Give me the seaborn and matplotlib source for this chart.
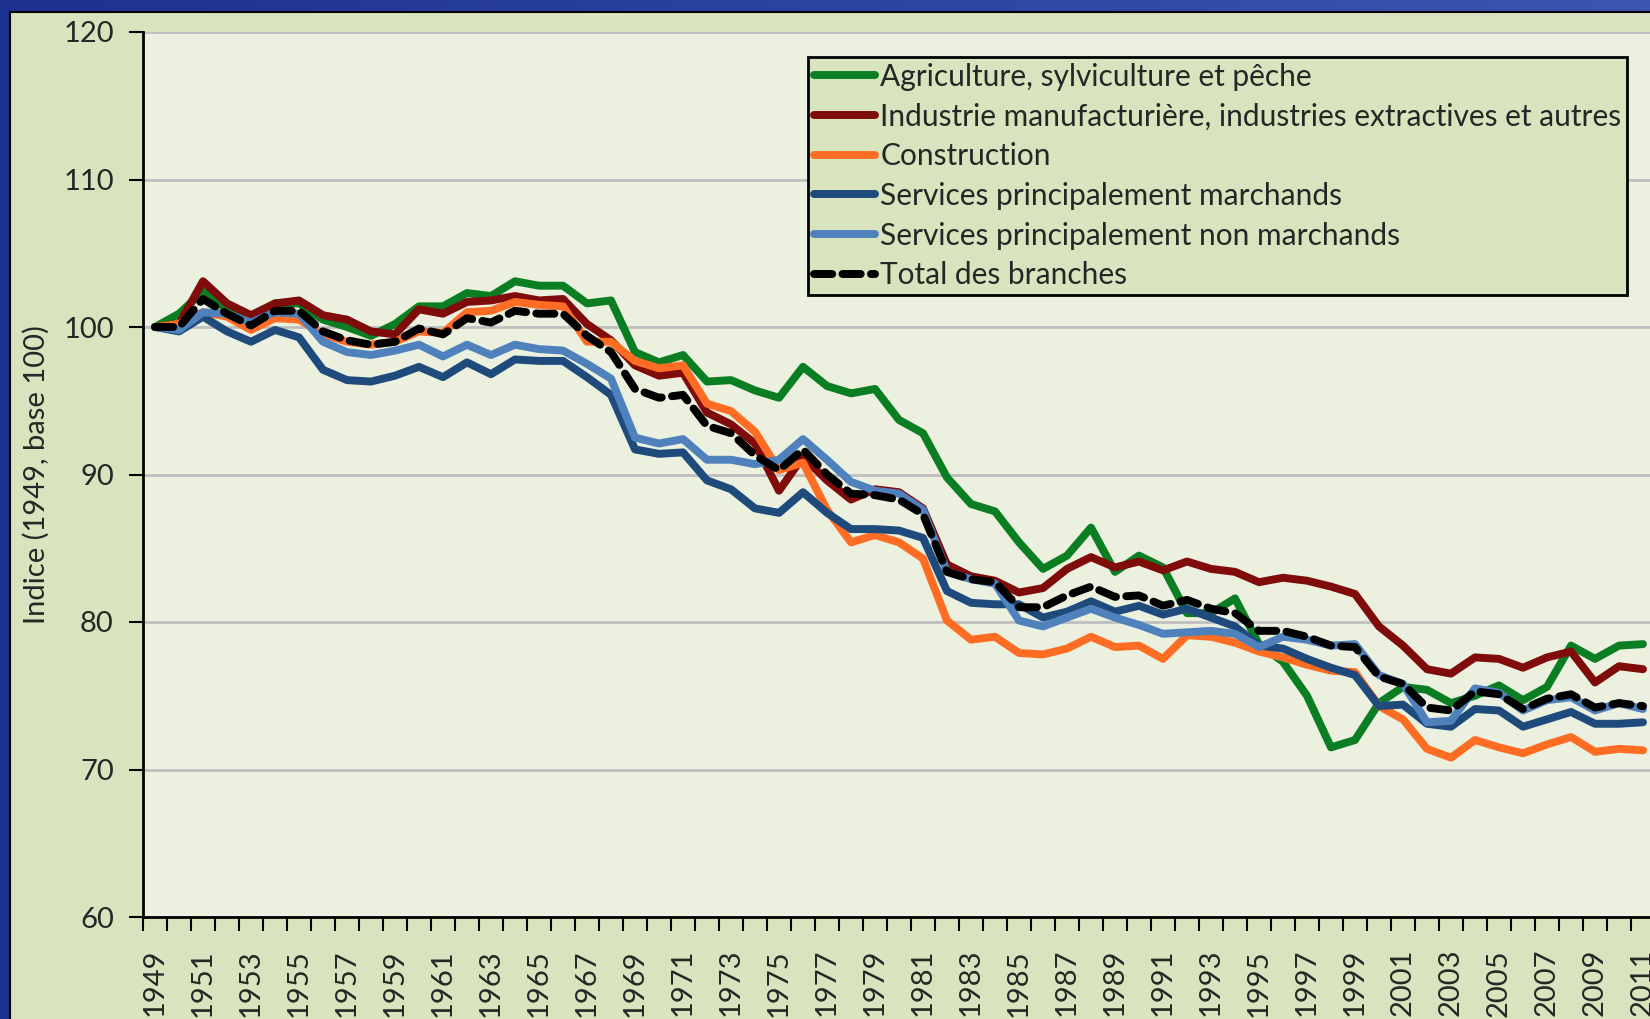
import numpy as np
import pandas as pd
import matplotlib
matplotlib.use("Agg")
import matplotlib.pyplot as plt
from matplotlib.patches import Rectangle
from matplotlib.ticker import MultipleLocator
import seaborn as sns

years = list(range(1949, 2012))

agri = [100, 100.9, 102.4, 101.2, 100.5, 101.6, 101.6, 100.5, 100.0, 99.4, 100.2, 101.4, 101.4, 102.3, 102.1, 103.1, 102.8, 102.8,
        101.6, 101.8, 98.3, 97.6, 98.1, 96.3, 96.4, 95.7, 95.2, 97.3, 96.0, 95.5, 95.8, 93.7, 92.8, 89.8,
        88.0, 87.5, 85.4, 83.6, 84.5, 86.4, 83.4, 84.5, 83.7, 80.6, 80.6, 81.6, 78.5, 77.3, 75.0, 71.5, 72.0, 74.5, 75.6,
        75.4, 74.5, 75.0, 75.7, 74.7, 75.6, 78.4, 77.5, 78.4, 78.5]
indus = [100, 100.2, 103.1, 101.6, 100.8, 101.6, 101.8, 100.8, 100.5, 99.7, 99.5, 101.2, 100.9, 101.7, 101.8, 102.1, 101.8, 101.9,
         100.2, 99.1, 97.4, 96.7, 96.9, 94.2, 93.4, 92.1, 88.9, 91.2, 89.6, 88.3, 89.0, 88.8, 87.7, 83.9,
         83.1, 82.8, 82.0, 82.3, 83.6, 84.4, 83.7, 84.1, 83.5, 84.1, 83.6, 83.4, 82.7, 83.0, 82.8, 82.4, 81.9, 79.7, 78.4,
         76.8, 76.5, 77.6, 77.5, 76.9, 77.6, 78.0, 75.9, 77.0, 76.8]
constr = [100, 100.2, 101.0, 100.7, 99.8, 100.6, 100.5, 99.5, 99.0, 98.8, 99.0, 99.7, 99.6, 101.0, 101.1, 101.7, 101.5, 101.4,
          99.0, 99.0, 97.7, 97.2, 97.4, 94.8, 94.3, 92.9, 90.3, 90.8, 87.6, 85.4, 85.9, 85.4, 84.3, 80.1,
          78.8, 79.0, 77.9, 77.8, 78.2, 79.0, 78.3, 78.4, 77.5, 79.1, 79.0, 78.6, 78.0, 77.6, 77.1, 76.7, 76.6, 74.3, 73.4,
          71.4, 70.8, 72.0, 71.5, 71.1, 71.7, 72.2, 71.2, 71.4, 71.3]
marchands = [100, 99.7, 100.7, 99.7, 99.0, 99.8, 99.3, 97.1, 96.4, 96.3, 96.7, 97.3, 96.6, 97.6, 96.8, 97.8, 97.7, 97.7,
             96.6, 95.4, 91.7, 91.4, 91.5, 89.6, 89.0, 87.7, 87.4, 88.8, 87.4, 86.3, 86.3, 86.2, 85.7, 82.1,
             81.3, 81.2, 81.2, 80.3, 80.7, 81.4, 80.7, 81.1, 80.5, 80.9, 80.3, 79.7, 78.4, 78.2, 77.5, 76.9, 76.4, 74.3, 74.4,
             73.1, 72.9, 74.1, 74.0, 72.9, 73.4, 73.9, 73.1, 73.1, 73.2]
non_marchands = [100, 99.8, 101.0, 100.9, 100.3, 101.0, 100.9, 99.0, 98.3, 98.1, 98.4, 98.8, 98.0, 98.8, 98.1, 98.8, 98.5, 98.4,
                 97.5, 96.5, 92.5, 92.1, 92.4, 91.0, 91.0, 90.7, 91.0, 92.4, 91.0, 89.5, 88.9, 88.7, 87.6, 83.4,
                 82.9, 82.6, 80.1, 79.7, 80.3, 80.9, 80.3, 79.8, 79.2, 79.3, 79.4, 79.2, 78.3, 79.0, 78.8, 78.4, 78.5, 76.4, 75.8,
                 73.2, 73.3, 75.5, 75.2, 74.0, 74.7, 74.9, 74.0, 74.5, 74.1]
total = [100, 100.0, 101.9, 100.9, 100.1, 101.1, 101.1, 99.7, 99.1, 98.8, 99.0, 99.9, 99.5, 100.6, 100.3, 101.1, 100.9, 100.9,
         99.4, 98.3, 95.8, 95.2, 95.4, 93.3, 92.8, 91.3, 90.3, 91.7, 90.0, 88.7, 88.6, 88.3, 87.3, 83.4,
         82.9, 82.7, 81.0, 81.0, 81.8, 82.4, 81.7, 81.8, 81.1, 81.5, 80.9, 80.6, 79.4, 79.4, 79.0, 78.4, 78.3, 76.3, 75.8,
         74.2, 74.0, 75.3, 75.1, 74.1, 74.8, 75.1, 74.2, 74.5, 74.3]

labels = ["Agriculture, sylviculture et pêche",
          "Industrie manufacturière, industries extractives et autres",
          "Construction",
          "Services principalement marchands",
          "Services principalement non marchands",
          "Total des branches"]
series = [agri, indus, constr, marchands, non_marchands, total]
colors = ["#0b7d22", "#800b0b", "#ff6d24", "#1e4a7c", "#4f81bd", "#000000"]

sns.set_theme(style="white")
plt.rcParams["font.family"] = ["Lato", "DejaVu Sans"]

fig = plt.figure(figsize=(16.5, 10.19), dpi=100)

# blue frame with a slight gradient
bg = fig.add_axes([0, 0, 1, 1], zorder=-10)
grad = np.linspace(0, 1, 256).reshape(1, -1)
bg.imshow(grad, aspect="auto", cmap=matplotlib.colors.LinearSegmentedColormap.from_list("b", ["#1d3190", "#3c56b0"]),
          extent=[0, 1, 0, 1])
bg.set_xlim(0, 1)
bg.set_ylim(0, 1)
bg.axis("off")
bg.add_patch(Rectangle((10 / 1650, -0.05), 1.1, 0.05 + 1 - 12 / 1019, facecolor="#d7e4bd",
                       edgecolor="black", lw=1.5))

ax = fig.add_axes([143 / 1650, 1 - 917 / 1019, 1512 / 1650, 885 / 1019])
ax.set_facecolor("#ebf1de")

for vals, lab, col in zip(series, labels, colors):
    if lab == "Total des branches":
        sns.lineplot(x=years, y=vals, ax=ax, color=col, lw=5.7, label=lab,
                     linestyle=(0, (2.3, 1.3)), dash_capstyle="round")
    else:
        sns.lineplot(x=years, y=vals, ax=ax, color=col, lw=5.7, label=lab, solid_capstyle="round")

ax.set_xlim(1948.5, 2011.5)
ax.set_ylim(60, 120)
ax.set_yticks(range(60, 121, 10))
ax.yaxis.grid(True, color="#bfbfbf", lw=2)
ax.set_axisbelow(True)
ax.set_xticks(years[::2])
ax.set_xticklabels([str(y) for y in years[::2]], rotation=90)
ax.xaxis.set_minor_locator(MultipleLocator(1, offset=0.5))
ax.tick_params(axis="x", which="major", length=0, pad=23, labelsize=21)
ax.tick_params(axis="x", which="minor", length=10, width=1.5, color="black", direction="out", bottom=True)
ax.tick_params(axis="y", length=10, width=1.5, color="black", direction="out", left=True, pad=11, labelsize=21)
for s in ["top", "right"]:
    ax.spines[s].set_visible(False)
for s in ["left", "bottom"]:
    ax.spines[s].set_color("black")
    ax.spines[s].set_linewidth(2)

ax.set_xlabel("")
ax.set_ylabel("Indice (1949, base 100)", fontsize=21)
ax.yaxis.set_label_coords(-0.062, 0.5)

leg = ax.legend(loc="upper left", bbox_to_anchor=(0.4398, 0.9718), borderaxespad=0, fontsize=21.5,
                frameon=True, fancybox=False, framealpha=1, facecolor="#d7e4bd", edgecolor="black",
                handlelength=2.05, handletextpad=0.17, labelspacing=0.39, borderpad=0.2)
leg.get_frame().set_linewidth(2)

fig.savefig("out.png", dpi=100)
